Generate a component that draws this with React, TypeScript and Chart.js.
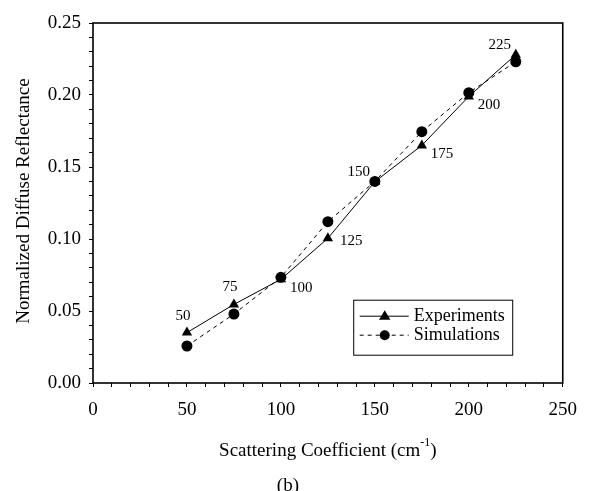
import React, { useEffect, useRef } from "react";
import { Chart, registerables } from "chart.js";

Chart.register(...registerables);

const scattering = [50, 75, 100, 125, 150, 175, 200, 225];
const experiments = [0.035, 0.0546, 0.072, 0.1005, 0.1398, 0.165, 0.199, 0.228];
const simulations = [0.0257, 0.0479, 0.0734, 0.112, 0.14, 0.1745, 0.2016, 0.2231];
const pointLabels = ["50", "75", "100", "125", "150", "175", "200", "225"];
const labelSide = ["n", "n", "se", "e", "nw", "se", "se", "nw"];
const yTickLabels = ["0.00", "0.05", "0.10", "0.15", "0.20", "0.25"];
const xTickLabels = ["0", "50", "100", "150", "200", "250"];
const seriesNames = ["Experiments", "Simulations"];
const xTitle = "Scattering Coefficient (cm";
const xTitleSup = "-1";
const yTitle = "Normalized Diffuse Reflectance";
const caption = "(b)";

const FONT = "'Liberation Serif', 'Times New Roman', serif";

const drawTri = (ctx: CanvasRenderingContext2D, x: number, y: number, r: number) => {
  ctx.beginPath();
  ctx.moveTo(x, y - r);
  ctx.lineTo(x + r * 0.95, y + r * 0.6);
  ctx.lineTo(x - r * 0.95, y + r * 0.6);
  ctx.closePath();
  ctx.fill();
};

const overlay = {
  id: "overlay",
  afterDraw(chart: any) {
    const { ctx, chartArea: a, scales } = chart;
    const xs = scales.x;
    const ys = scales.y;
    ctx.save();
    // frame
    ctx.strokeStyle = "#000";
    ctx.lineWidth = 1.6;
    ctx.strokeRect(a.left, a.top, a.right - a.left, a.bottom - a.top);

    // point labels
    ctx.fillStyle = "#000";
    ctx.font = `15px ${FONT}`;
    ctx.textBaseline = "middle";
    scattering.forEach((sx, i) => {
      const px = xs.getPixelForValue(sx);
      const py = ys.getPixelForValue(experiments[i]);
      const side = labelSide[i];
      if (side === "n") {
        ctx.textAlign = "center";
        ctx.fillText(pointLabels[i], px - 4, py - 17);
      } else if (side === "nw") {
        ctx.textAlign = "center";
        ctx.fillText(pointLabels[i], px - 16, py - 10);
      } else if (side === "e") {
        ctx.textAlign = "left";
        ctx.fillText(pointLabels[i], px + 12, py + 3);
      } else {
        ctx.textAlign = "left";
        ctx.fillText(pointLabels[i], px + 9, py + 9);
      }
    });

    // legend
    const lx = a.left + (a.right - a.left) * 0.555;
    const ly = a.top + (a.bottom - a.top) * 0.77;
    const lw = 159;
    const lh = 55;
    ctx.fillStyle = "#fff";
    ctx.fillRect(lx, ly, lw, lh);
    ctx.strokeStyle = "#000";
    ctx.lineWidth = 1;
    ctx.strokeRect(lx, ly, lw, lh);
    const r1 = ly + 16;
    const r2 = ly + 35;
    ctx.lineWidth = 1;
    ctx.beginPath();
    ctx.moveTo(lx + 6, r1);
    ctx.lineTo(lx + 55, r1);
    ctx.stroke();
    ctx.fillStyle = "#000";
    drawTri(ctx, lx + 31, r1, 6);
    ctx.setLineDash([4, 4]);
    ctx.beginPath();
    ctx.moveTo(lx + 6, r2);
    ctx.lineTo(lx + 55, r2);
    ctx.stroke();
    ctx.setLineDash([]);
    ctx.beginPath();
    ctx.arc(lx + 31, r2, 5, 0, Math.PI * 2);
    ctx.fill();
    ctx.font = `18px ${FONT}`;
    ctx.textAlign = "left";
    ctx.textBaseline = "middle";
    ctx.fillText(seriesNames[0], lx + 60, r1);
    ctx.fillText(seriesNames[1], lx + 60, r2);

    // x title with superscript
    ctx.font = `19px ${FONT}`;
    const w1 = ctx.measureText(xTitle).width;
    ctx.font = `12px ${FONT}`;
    const w2 = ctx.measureText(xTitleSup).width;
    ctx.font = `19px ${FONT}`;
    const w3 = ctx.measureText(")").width;
    const cx = (a.left + a.right) / 2;
    let tx = cx - (w1 + w2 + w3) / 2;
    const ty = a.bottom + 68;
    ctx.textBaseline = "middle";
    ctx.fillText(xTitle, tx, ty);
    tx += w1;
    ctx.font = `12px ${FONT}`;
    ctx.fillText(xTitleSup, tx, ty - 8);
    tx += w2;
    ctx.font = `19px ${FONT}`;
    ctx.fillText(")", tx, ty);

    // caption
    ctx.textAlign = "center";
    ctx.fillText(caption, cx - 40, a.bottom + 103);

    // y title
    ctx.save();
    ctx.translate(24, 201);
    ctx.rotate(-Math.PI / 2);
    ctx.font = `19px ${FONT}`;
    ctx.textAlign = "center";
    ctx.textBaseline = "middle";
    ctx.fillText(yTitle, 0, 0);
    ctx.restore();

    ctx.restore();
  },
};

export default function App() {
  const ref = useRef<HTMLCanvasElement>(null);
  useEffect(() => {
    if (!ref.current) return;
    const chart = new Chart(ref.current, {
      type: "line",
      data: {
        datasets: [
          {
            label: seriesNames[0],
            data: scattering.map((x, i) => ({ x, y: experiments[i] })),
            borderColor: "#000",
            backgroundColor: "#000",
            borderWidth: 1,
            pointStyle: "triangle",
            pointRadius: 6,
            pointBorderWidth: 0,
          },
          {
            label: seriesNames[1],
            data: scattering.map((x, i) => ({ x, y: simulations[i] })),
            borderColor: "#000",
            backgroundColor: "#000",
            borderWidth: 1,
            borderDash: [4, 4],
            pointStyle: "circle",
            pointRadius: 5.5,
            pointBorderWidth: 0,
          },
        ],
      },
      options: {
        animation: false,
        responsive: false,
        layout: { padding: { top: 23, right: 23, left: 0, bottom: 0 } },
        plugins: { legend: { display: false }, tooltip: { enabled: false } },
        scales: {
          x: {
            type: "linear",
            min: 0,
            max: 250,
            afterFit: (s: any) => {
              s.height = 108;
            },
            afterBuildTicks: (s: any) => {
              const t = [];
              for (let v = 0; v <= 250; v += 10) t.push({ value: v });
              s.ticks = t;
            },
            border: { display: false },
            grid: {
              drawOnChartArea: false,
              drawTicks: true,
              tickLength: 4,
              color: "#000",
              tickColor: "#000",
            },
            ticks: {
              color: "#000",
              font: { family: FONT, size: 19 },
              padding: 12,
              maxRotation: 0,
              autoSkip: false,
              callback: (v: any) => {
                const i = Math.round(Number(v) / 50);
                return Number(v) % 50 === 0 ? xTickLabels[i] : "";
              },
            },
          },
          y: {
            type: "linear",
            min: 0,
            max: 0.25,
            afterFit: (s: any) => {
              s.width = 93;
            },
            afterBuildTicks: (s: any) => {
              const t = [];
              for (let k = 0; k <= 25; k++) t.push({ value: k / 100 });
              s.ticks = t;
            },
            border: { display: false },
            grid: {
              drawOnChartArea: false,
              drawTicks: true,
              tickLength: 4,
              color: "#000",
              tickColor: "#000",
            },
            ticks: {
              color: "#000",
              font: { family: FONT, size: 19 },
              padding: 8,
              autoSkip: false,
              callback: (v: any) => {
                const k = Math.round(Number(v) * 100);
                return k % 5 === 0 ? yTickLabels[k / 5] : "";
              },
            },
          },
        },
      },
      plugins: [overlay],
    });
    return () => chart.destroy();
  }, []);
  return (
    <div style={{ position: "fixed", left: 0, top: 0, width: 589, height: 491, background: "#fff" }}>
      <canvas ref={ref} width={589} height={491} style={{ width: 589, height: 491 }} />
    </div>
  );
}
